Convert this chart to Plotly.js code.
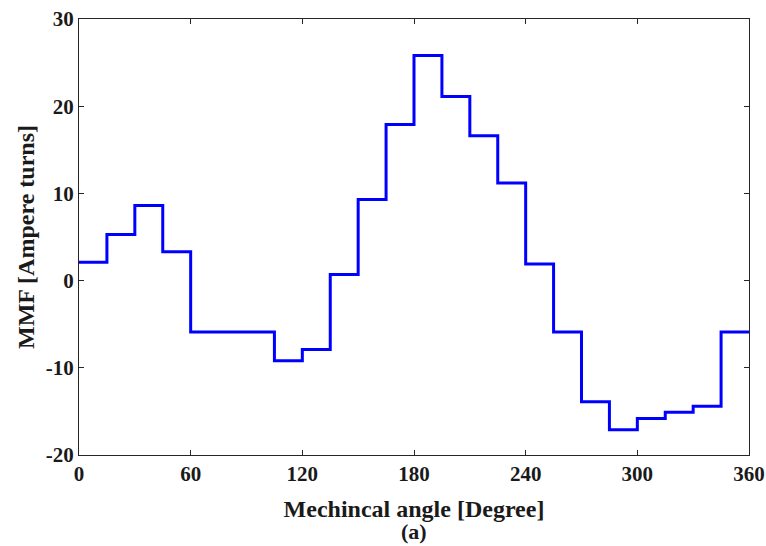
<!DOCTYPE html>
<html>
<head>
<meta charset="utf-8">
<script src="https://cdn.plot.ly/plotly-3.0.1.min.js"></script>
<style>html,body{margin:0;padding:0;background:#fff;}#chart{width:766px;height:546px;}</style>
</head>
<body>
<div id="chart"></div>
<script>
// Step boundaries (mechanical angle, degrees)
const angleEdges = [0, 15, 30, 45, 60, 75, 90, 105, 120, 135, 150, 165, 180, 195, 210, 225, 240, 255, 270, 285, 300, 315, 330, 345, 360];
// MMF value on each 15-degree step
const mmfSteps = [2.1, 5.3, 8.6, 3.3, -5.9, -5.9, -5.9, -9.2, -7.9, 0.7, 9.3, 17.9, 25.8, 21.1, 16.6, 11.2, 1.9, -5.9, -13.9, -17.1, -15.8, -15.1, -14.4, -5.9];
const xTickVals = [0, 60, 120, 180, 240, 300, 360];
const xTickText = ['0', '60', '120', '180', '240', '300', '360'];
const yTickVals = [-20, -10, 0, 10, 20, 30];
const yTickText = ['-20', '-10', '0', '10', '20', '30'];

const yLine = mmfSteps.concat([mmfSteps[mmfSteps.length - 1]]);

const font = {family: '"Liberation Serif", "Times New Roman", serif', color: '#1a1a1a'};
const axisCommon = {
  showgrid: false, zeroline: false,
  showline: true, linecolor: '#262626', linewidth: 1, mirror: 'ticks',
  ticks: 'inside', ticklen: 5, tickwidth: 1, tickcolor: '#262626',
  tickfont: Object.assign({size: 21, weight: 'bold'}, font)
};

const trace = {
  x: angleEdges, y: yLine, type: 'scatter', mode: 'lines',
  line: {shape: 'hv', color: '#0000FF', width: 3},
  hoverinfo: 'skip'
};

const layout = {
  width: 766, height: 546,
  margin: {l: 79.3, r: 16.7, t: 19.3, b: 91},
  paper_bgcolor: '#fff', plot_bgcolor: '#fff',
  showlegend: false,
  xaxis: Object.assign({}, axisCommon, {
    range: [0, 360], tickvals: xTickVals, ticktext: xTickText,
    title: {text: 'Mechincal angle [Degree]', font: Object.assign({size: 24, weight: 'bold'}, font), standoff: 14}
  }),
  yaxis: Object.assign({}, axisCommon, {
    range: [-20, 30], tickvals: yTickVals, ticktext: yTickText,
    title: {text: 'MMF [Ampere turns]', font: Object.assign({size: 24, weight: 'bold'}, font), standoff: 4}
  }),
  annotations: [{
    text: '(a)', xref: 'paper', yref: 'paper', x: 0.5, y: 0, yshift: -62,
    xanchor: 'center', yanchor: 'top', showarrow: false,
    font: Object.assign({size: 22, weight: 'bold'}, font)
  }]
};

Plotly.newPlot('chart', [trace], layout, {displayModeBar: false, staticPlot: true});
</script>
</body>
</html>
